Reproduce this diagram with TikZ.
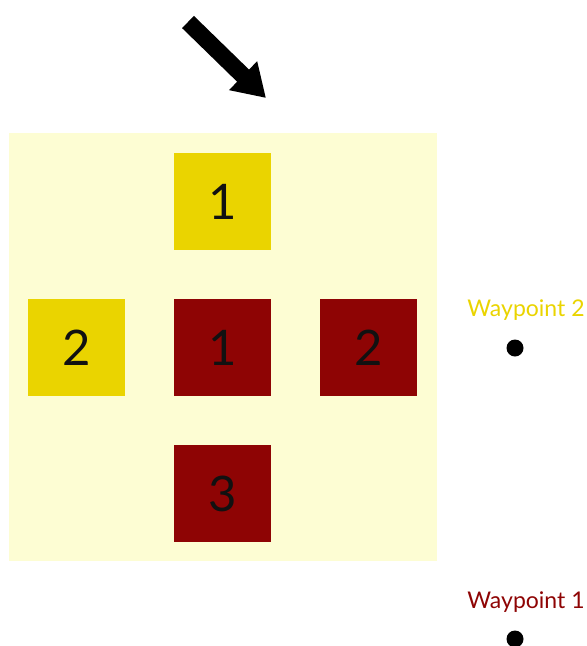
\documentclass[tikz,border=0pt]{standalone}
\usepackage{fontspec}
\setmainfont{Lato}
\usetikzlibrary{arrows.meta,positioning}
\definecolor{Panel}{HTML}{FDFDD3}
\definecolor{Mustard}{HTML}{EAD400}
\definecolor{Maroon}{HTML}{8E0404}
\definecolor{TextInk}{HTML}{111111}

\begin{document}
\begin{tikzpicture}[x=1pt,y=-1pt,every node/.style={text=TextInk},tile/.style={minimum size=97pt,inner sep=0pt,font=\fontsize{49}{49}\selectfont},goaltile/.style={tile,fill=Mustard},pathtile/.style={tile,fill=Maroon},waylabel/.style={font=\fontsize{23}{23}\selectfont},waydot/.style={circle,fill=black,minimum size=17pt,inner sep=0pt},bigarrow/.style={-{Triangle[length=32pt,width=38pt]},line width=17pt,draw=black}]
\useasboundingbox (0,0) rectangle (587,646);
\fill[Panel] (9,133) rectangle (437,561);

\node[goaltile] (top1) at (222.5,201.5) {1};
\node[goaltile] (left2) at (76.5,347.5) {2};
\node[pathtile] (mid1) at (222.5,347.5) {1};
\node[pathtile] (right2) at (368.5,347.5) {2};
\node[pathtile] (bottom3) at (222.5,493.5) {3};

\node[waylabel,text=Mustard] (wp2) at (526,310) {Waypoint 2};
\node[waydot] (dot2) at (515,348) {};
\node[waylabel,text=Maroon] (wp1) at (526,602) {Waypoint 1};
\node[waydot] (dot1) at (515,639) {};

\coordinate (tail) at (188,22);
\coordinate (tip) at (266,98);
\draw[bigarrow] (tail)--(tip);

\end{tikzpicture}
\end{document}
